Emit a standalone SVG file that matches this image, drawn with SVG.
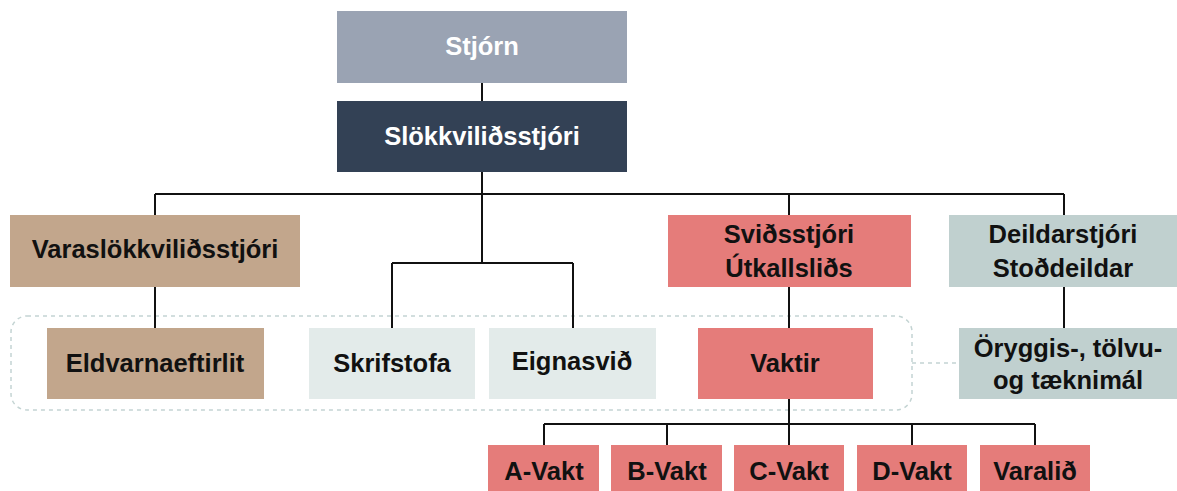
<svg xmlns="http://www.w3.org/2000/svg" width="1177" height="491" viewBox="0 0 1177 491">
<style>
text{font-family:"Liberation Sans",Arial,sans-serif;font-weight:bold;font-size:25.5px;text-anchor:middle;fill:#111}
.w{fill:#fff}
.ln{stroke:#111;stroke-width:2;fill:none}
.dash{stroke:#c4d4d3;stroke-width:1.5;fill:none;stroke-dasharray:4 4}
.gray{fill:#9aa3b3}.dark{fill:#334155}.tan{fill:#c2a68c}.pale{fill:#e3ebea}.red{fill:#e57c7a}.teal{fill:#c0d0cf}
</style>
<rect width="1177" height="491" fill="#fff"/>
<g id="group-box">
<rect class="dash" x="11" y="316" width="901" height="94" rx="16"/>
</g>
<g id="connectors">
<path class="ln" d="M482 83V101M482 172V194M155 194H1064M155 194V215M482 194V263M789 194V215M1064 194V215M155 287V328M392 263H573M392 263V328M573 263V328M789 287V328M789 399V424M1064 287V328M544 424H1035M544 424V445M667 424V445M789 424V445M912 424V445M1035 424V445"/>
<path class="dash" d="M912 363H959"/>
</g>
<g id="stjorn"><rect class="gray" x="337" y="11" width="290" height="72"/><text class="w" x="482" y="55">Stjórn</text></g>
<g id="slokkvilidsstjori"><rect class="dark" x="337" y="101" width="290" height="71"/><text class="w" x="482" y="145">Slökkviliðsstjóri</text></g>
<g id="varaslokkvilidsstjori"><rect class="tan" x="10" y="215" width="290" height="72"/><text x="155" y="258">Varaslökkviliðsstjóri</text></g>
<g id="svidsstjori"><rect class="red" x="668" y="215" width="243" height="72"/><text x="789" y="243">Sviðsstjóri</text><text x="789" y="277">Útkallsliðs</text></g>
<g id="deildarstjori"><rect class="teal" x="949" y="215" width="228" height="72"/><text x="1063" y="243">Deildarstjóri</text><text x="1063" y="277">Stoðdeildar</text></g>
<g id="eldvarnaeftirlit"><rect class="tan" x="47" y="328" width="217" height="71"/><text x="155" y="372">Eldvarnaeftirlit</text></g>
<g id="skrifstofa"><rect class="pale" x="309" y="328" width="166" height="71"/><text x="392" y="372">Skrifstofa</text></g>
<g id="eignasvid"><rect class="pale" x="489" y="328" width="167" height="71"/><text x="572" y="370">Eignasvið</text></g>
<g id="vaktir"><rect class="red" x="698" y="328" width="175" height="71"/><text x="785" y="372">Vaktir</text></g>
<g id="oryggis"><rect class="teal" x="959" y="328" width="218" height="71"/><text x="1068" y="357">Öryggis-, tölvu-</text><text x="1068" y="389">og tæknimál</text></g>
<g id="a-vakt"><rect class="red" x="488" y="445" width="111" height="50"/><text x="544" y="480">A-Vakt</text></g>
<g id="b-vakt"><rect class="red" x="611" y="445" width="111" height="50"/><text x="667" y="480">B-Vakt</text></g>
<g id="c-vakt"><rect class="red" x="734" y="445" width="110" height="50"/><text x="789" y="480">C-Vakt</text></g>
<g id="d-vakt"><rect class="red" x="857" y="445" width="110" height="50"/><text x="912" y="480">D-Vakt</text></g>
<g id="varalid"><rect class="red" x="980" y="445" width="110" height="50"/><text x="1035" y="480">Varalið</text></g>
</svg>
